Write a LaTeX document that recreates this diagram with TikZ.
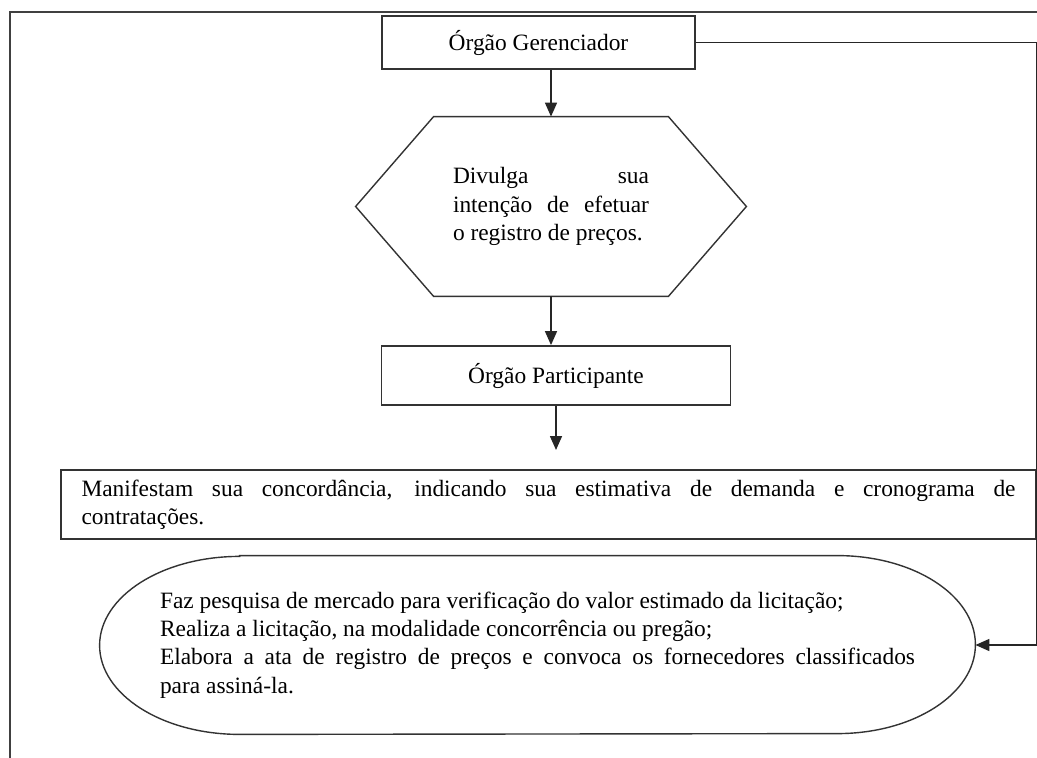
\documentclass[tikz,border=0pt]{standalone}
\usepackage{fontspec}
\setmainfont{Liberation Serif}
\usetikzlibrary{arrows.meta}
\tolerance=10000
\hbadness=10000

\tikzset{
  texto/.style = {font = \fontsize{11.7}{14.1}\selectfont, inner sep = 0pt},
  caixa/.style = {texto, draw = black!80, line width = 0.9pt},
  forma/.style = {draw = black!80, line width = 0.7pt},
  seta/.style = {draw = black!85, line width = 0.8pt, -{Triangle[length = 7pt, width = 6pt]}},
  moldura/.style = {draw = black!75, line width = 1pt}
}

\begin{document}
\begin{tikzpicture} [x = 0.5pt, y = -0.5pt]
\useasboundingbox (0, 0) rectangle (1037, 758);
\draw[moldura] (10, 758) -- (10, 12) -- (1037, 12);
% caixas
\node[caixa, minimum width = 156.5pt, minimum height = 26.5pt] (gerenciador) at (538.5, 42.5){Órgão Gerenciador};
\node[texto, minimum width = 195pt, minimum height = 89.5pt, text width = 98pt, align = justify] (divulga) at (551, 206.5){Divulga sua\linebreak intenção de efetuar\linebreak o registro de preços.};
\draw[forma] (divulga.west) -- ([xshift = 39pt] divulga.north west) -- ([xshift = -39pt] divulga.north east) -- (divulga.east) -- ([xshift = -39pt] divulga.south east) -- ([xshift = 39pt] divulga.south west) -- cycle;
\node[caixa, minimum width = 174.5pt, minimum height = 29.5pt] (participante) at (556, 375.5){Órgão Participante};
\node[caixa, minimum width = 487.5pt, minimum height = 34.5pt, text width = 467pt, align = justify] (manifestam) at (548.5, 504.5){Manifestam sua concordância, indicando sua estimativa de demanda e cronograma de\linebreak contratações.};
\node[texto, minimum width = 437.5pt, minimum height = 89pt, text width = 377.5pt, align = justify] (pesquisa) at (537.5, 645){Faz pesquisa de mercado para verificação do valor estimado da licitação;\\ Realiza a licitação, na modalidade concorrência ou pregão;\\ Elabora a ata de registro de preços e convoca os fornecedores classificados\linebreak para assiná-la.};
\draw[forma] ([xshift = 70pt] pesquisa.north west) -- ([xshift = -69pt] pesquisa.north east) arc[start angle = -90, end angle = 90, x radius = 138, y radius = 89] -- ([xshift = 70pt] pesquisa.south west) arc[start angle = 90, end angle = 270, x radius = 140, y radius = 89] -- cycle;
% setas
\coordinate (canto) at (1036.5, 645);
\coordinate (fimSeta) at (556, 450);
\draw[seta] (gerenciador.south -| divulga.north) -- (divulga.north);
\draw[seta] (divulga.south) -- (divulga.south |- participante.north);
\draw[seta] (participante.south) -- (fimSeta);
\draw[seta] (gerenciador.east) -| (canto) -- (pesquisa.east);
\end{tikzpicture}
\end{document}
